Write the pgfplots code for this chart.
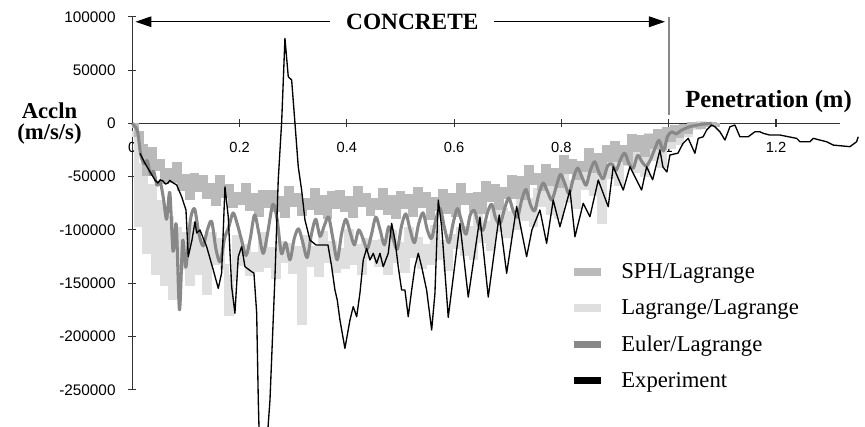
\documentclass[border=0pt]{standalone}
\usepackage{fontspec}
\setmainfont{Liberation Serif}
\setsansfont{Liberation Sans}
\usepackage{pgfplots}
\pgfplotsset{compat=1.18}
\usetikzlibrary{arrows.meta}
\definecolor{sphc}{RGB}{186,186,186}
\definecolor{lagc}{RGB}{223,223,223}
\definecolor{eulc}{RGB}{136,136,136}
\begin{document}
\begin{tikzpicture}
\begin{axis}[
  at={(99.2pt,227.0pt)}, anchor=origin,
  scale only axis, width=531.1pt, height=279.8pt,
  xmin=0, xmax=1.32, ymin=-250000, ymax=100000,
  axis x line=middle, axis y line=middle,
  axis line style={-, line width=0.8pt, color=black!80},
  clip=false,
  scaled x ticks=false, scaled y ticks=false,
  hide obscured x ticks=false, hide obscured y ticks=false,
  xtick={0,0.2,0.4,0.6,0.8,1,1.2},
  xticklabels={0,0.2,0.4,0.6,0.8,1,1.2},
  ytick={-250000,-200000,-150000,-100000,-50000,0,50000,100000},
  yticklabels={-250000,-200000,-150000,-100000,-50000,0,50000,100000},
  major tick length=6pt, tick align=center,
  tick style={line width=0.8pt, black!80},
  xticklabel style={font=\sffamily\fontsize{11}{13}\selectfont, anchor=center, yshift=-15pt},
  yticklabel style={font=\sffamily\fontsize{11.5}{13}\selectfont, anchor=east, xshift=-6pt},
  legend style={draw=none, fill=none, at={(axis cs:0.822,-128500)}, anchor=north west,
    font=\fontsize{17}{20}\selectfont, row sep=10.3pt, column sep=14pt, inner sep=0pt,
    nodes={inner sep=2pt}},
  legend cell align=left,
  legend image code/.code={\fill[#1] (0pt,-2.3pt) rectangle (19.5pt,2.3pt);},
]
% Lagrange/Lagrange
\addplot[forget plot, const plot, lagc, line width=4.2pt] coordinates {
(0,-10000)(0.008,-95000)(0.016,-40000)(0.024,-120000)(0.032,-60000)(0.040,-140000)(0.048,-75000)(0.056,-150000)(0.064,-90000)(0.072,-163000)(0.080,-100000)(0.088,-135000)(0.096,-105000)(0.104,-150000)(0.112,-95000)(0.120,-140000)(0.128,-110000)(0.136,-158000)(0.144,-105000)(0.152,-130000)(0.160,-110000)(0.168,-135000)(0.176,-178000)(0.184,-145000)(0.192,-107000)(0.200,-131000)(0.208,-116000)(0.216,-141000)(0.224,-123000)(0.232,-137000)(0.240,-105000)(0.248,-133000)(0.256,-119000)(0.264,-143000)(0.272,-113000)(0.280,-128000)(0.288,-115000)(0.296,-139000)(0.304,-118000)(0.312,-187000)(0.320,-107000)(0.328,-132000)(0.336,-118000)(0.344,-142000)(0.352,-104000)(0.360,-128000)(0.368,-113000)(0.376,-138000)(0.384,-120000)(0.392,-134000)(0.400,-102000)(0.408,-130000)(0.416,-116000)(0.424,-140000)(0.432,-110000)(0.440,-125000)(0.448,-112000)(0.456,-132000)(0.464,-111000)(0.472,-140000)(0.480,-103000)(0.488,-128000)(0.496,-114000)(0.504,-138000)(0.512,-100000)(0.520,-124000)(0.528,-109000)(0.536,-134000)(0.544,-116000)(0.552,-130000)(0.560,-98000)(0.568,-126000)(0.576,-112000)(0.584,-136000)(0.592,-106000)(0.600,-115000)(0.608,-100000)(0.616,-122000)(0.624,-99000)(0.632,-126000)(0.640,-87000)(0.648,-110000)(0.656,-94000)(0.664,-117000)(0.672,-77000)(0.680,-99000)(0.688,-82000)(0.696,-105000)(0.704,-85000)(0.712,-97000)(0.720,-63000)(0.728,-89000)(0.736,-73000)(0.744,-95000)(0.752,-63000)(0.760,-76000)(0.768,-61000)(0.776,-83000)(0.784,-60000)(0.792,-87000)(0.800,-48000)(0.808,-72000)(0.816,-56000)(0.824,-78000)(0.832,-38000)(0.840,-60000)(0.848,-43000)(0.856,-66000)(0.864,-46000)(0.872,-92000)(0.880,-34000)(0.888,-50000)(0.896,-34000)(0.904,-56000)(0.912,-28000)(0.920,-37000)(0.928,-22000)(0.936,-44000)(0.944,-22000)(0.952,-48000)(0.960,-12000)(0.968,-33000)(0.976,-17000)(0.984,-39000)(0.992,-7000)(1.000,-21000)(1.008,-5000)(1.016,-18000)(1.024,-3000)(1.032,-10000)(1.040,-2000)(1.048,-4000)(1.056,0)(1.072,0)
};
% SPH/Lagrange
\addplot[forget plot, const plot, sphc, line width=4.2pt] coordinates {
(0,-2000)(0.008,-10000)(0.016,-22000)(0.024,-47000)(0.032,-25000)(0.040,-42000)(0.048,-36000)(0.056,-54000)(0.064,-45000)(0.072,-53000)(0.080,-39000)(0.088,-61000)(0.096,-50000)(0.104,-69000)(0.112,-49000)(0.120,-62000)(0.128,-51000)(0.136,-68000)(0.144,-59000)(0.152,-75000)(0.160,-51000)(0.168,-67000)(0.176,-60000)(0.184,-77000)(0.192,-67000)(0.200,-74000)(0.208,-59000)(0.216,-80000)(0.224,-68000)(0.232,-85000)(0.240,-65000)(0.248,-77000)(0.256,-65000)(0.264,-81000)(0.272,-71000)(0.280,-86000)(0.288,-61000)(0.296,-76000)(0.304,-68000)(0.312,-84000)(0.320,-73000)(0.328,-79000)(0.336,-63000)(0.344,-83000)(0.352,-70000)(0.360,-87000)(0.368,-66000)(0.376,-78000)(0.384,-65000)(0.392,-81000)(0.400,-71000)(0.408,-86000)(0.416,-61000)(0.424,-76000)(0.432,-68000)(0.440,-84000)(0.448,-73000)(0.456,-79000)(0.464,-63000)(0.472,-83000)(0.480,-70000)(0.488,-87000)(0.496,-66000)(0.504,-78000)(0.512,-69000)(0.520,-85000)(0.528,-62000)(0.536,-77000)(0.544,-67000)(0.552,-88000)(0.560,-72000)(0.568,-80000)(0.576,-64000)(0.584,-82000)(0.592,-68000)(0.600,-85000)(0.608,-59000)(0.616,-74000)(0.624,-68000)(0.632,-81000)(0.640,-67000)(0.648,-82000)(0.656,-57000)(0.664,-71000)(0.672,-60000)(0.680,-79000)(0.688,-62000)(0.696,-68000)(0.704,-51000)(0.712,-68000)(0.720,-52000)(0.728,-69000)(0.736,-42000)(0.744,-55000)(0.752,-49000)(0.760,-61000)(0.768,-41000)(0.776,-56000)(0.784,-45000)(0.792,-58000)(0.800,-32000)(0.808,-45000)(0.816,-36000)(0.824,-51000)(0.832,-38000)(0.840,-43000)(0.848,-26000)(0.856,-44000)(0.864,-30000)(0.872,-46000)(0.880,-23000)(0.888,-34000)(0.896,-19000)(0.904,-34000)(0.912,-23000)(0.920,-36000)(0.928,-13000)(0.936,-24000)(0.944,-14000)(0.952,-29000)(0.960,-13000)(0.968,-21000)(0.976,-8000)(0.984,-22000)(0.992,-6000)(1.000,-15000)(1.008,-4000)(1.016,-11000)(1.024,-3000)(1.032,-7000)(1.040,-1000)(1.048,-2000)(1.056,-3000)(1.064,-1000)(1.080,-1000)(1.090,0)
};
% Euler/Lagrange
\addplot[forget plot, eulc, line width=2.3pt, line join=round, smooth, tension=0.5] coordinates {
(0.000,0)(0.005,-3000)(0.010,-8000)(0.016,-30000)(0.022,-38000)(0.028,-35000)(0.034,-48000)(0.040,-45000)(0.046,-58000)(0.052,-55000)(0.058,-70000)(0.064,-90000)(0.070,-65000)(0.076,-120000)(0.082,-95000)(0.088,-175000)(0.094,-110000)(0.100,-135000)(0.108,-92000)(0.116,-80000)(0.124,-103000)(0.132,-115000)(0.140,-100000)(0.148,-92000)(0.156,-118000)(0.164,-130000)(0.172,-108000)(0.180,-97000)(0.188,-84000)(0.196,-95000)(0.204,-110000)(0.212,-124000)(0.220,-108000)(0.228,-86000)(0.236,-103000)(0.244,-122000)(0.252,-104000)(0.262,-76000)(0.270,-90000)(0.278,-122000)(0.286,-112000)(0.294,-128000)(0.302,-108000)(0.310,-99000)(0.318,-112000)(0.326,-126000)(0.334,-104000)(0.342,-90000)(0.350,-106000)(0.358,-96000)(0.366,-88000)(0.374,-108000)(0.382,-128000)(0.390,-104000)(0.398,-90000)(0.406,-102000)(0.414,-114000)(0.422,-100000)(0.430,-108000)(0.438,-118000)(0.446,-104000)(0.454,-88000)(0.462,-100000)(0.470,-114000)(0.478,-97000)(0.486,-108000)(0.494,-118000)(0.502,-96000)(0.510,-85000)(0.518,-100000)(0.526,-112000)(0.534,-94000)(0.542,-84000)(0.550,-100000)(0.558,-108000)(0.566,-90000)(0.574,-80000)(0.582,-98000)(0.590,-112000)(0.598,-94000)(0.606,-80000)(0.614,-92000)(0.622,-104000)(0.630,-86000)(0.638,-82000)(0.646,-96000)(0.654,-100000)(0.662,-84000)(0.670,-76000)(0.678,-90000)(0.686,-94000)(0.694,-80000)(0.702,-70000)(0.710,-82000)(0.718,-88000)(0.726,-72000)(0.734,-62000)(0.742,-76000)(0.750,-82000)(0.758,-66000)(0.766,-56000)(0.774,-64000)(0.782,-72000)(0.790,-60000)(0.798,-48000)(0.806,-56000)(0.814,-66000)(0.822,-52000)(0.830,-42000)(0.838,-50000)(0.846,-58000)(0.854,-44000)(0.862,-36000)(0.870,-46000)(0.878,-52000)(0.886,-40000)(0.894,-38000)(0.902,-44000)(0.910,-34000)(0.918,-28000)(0.926,-38000)(0.934,-42000)(0.942,-30000)(0.950,-36000)(0.958,-40000)(0.966,-34000)(0.974,-24000)(0.982,-16000)(0.990,-26000)(0.998,-12000)(1.006,-8000)(1.014,-10000)(1.022,-7000)(1.030,-5000)(1.040,-3000)(1.050,-2000)(1.060,-1000)(1.080,0)
};
% Experiment
\addplot[forget plot, black, line width=1pt, line join=round] coordinates {
(0.0144,-28100)(0.0237,-37500)(0.0330,-45400)(0.0423,-53200)(0.0478,-56000)(0.0520,-53000)(0.0572,-54100)(0.0620,-57000)(0.0665,-56000)(0.0700,-53500)(0.0740,-55100)(0.0828,-57900)(0.0921,-68900)(0.1001,-81300)(0.1044,-125100)(0.1113,-109500)(0.1169,-92300)(0.1200,-102900)(0.1262,-100100)(0.1387,-115700)(0.1510,-137600)(0.1603,-154800)(0.1666,-140400)(0.1728,-59500)(0.1789,-87600)(0.1853,-153300)(0.1914,-178200)(0.1976,-125100)(0.2039,-115700)(0.2101,-134500)(0.2226,-139200)(0.2268,-140400)(0.2319,-177900)(0.2349,-259500)(0.2370,-300000)(0.2510,-300000)(0.2567,-259500)(0.2660,-143900)(0.2721,-53200)(0.2785,1500)(0.2846,79700)(0.2908,43700)(0.2971,40600)(0.3033,0)(0.3094,-40700)(0.3157,-62600)(0.3219,-90700)(0.3312,-109500)(0.3424,-114100)(0.3536,-114100)(0.3648,-114100)(0.3717,-134500)(0.3778,-156400)(0.3821,-165700)(0.3871,-184500)(0.3964,-211100)(0.4058,-184500)(0.4119,-172000)(0.4183,-181400)(0.4244,-159200)(0.4306,-128200)(0.4369,-117300)(0.4431,-128200)(0.4492,-121900)(0.4555,-131300)(0.4617,-121900)(0.4678,-134500)(0.4772,-121900)(0.4835,-93800)(0.4897,-109500)(0.4958,-134500)(0.5021,-156400)(0.5083,-156400)(0.5144,-181400)(0.5208,-156400)(0.5269,-134500)(0.5331,-121900)(0.5394,-134500)(0.5487,-156400)(0.5581,-193900)(0.5642,-159500)(0.5704,-71900)(0.5767,-97000)(0.5890,-182000)(0.6108,-94000)(0.6263,-163000)(0.6481,-88000)(0.6636,-163000)(0.6840,-86000)(0.6979,-140700)(0.7165,-78000)(0.7351,-125100)(0.7450,-100000)(0.7599,-81300)(0.7724,-112600)(0.7847,-71900)(0.7972,-97000)(0.8159,-62600)(0.8252,-106400)(0.8406,-75000)(0.8531,-87600)(0.8686,-53200)(0.8872,-78200)(0.8965,-40700)(0.9152,-62600)(0.9277,-40700)(0.9495,-62600)(0.9588,-40700)(0.9700,-53000)(0.9836,-25000)(0.9892,-41000)(0.9966,-45600)(1.0022,-29700)(1.0171,-28000)(1.0264,-19000)(1.0363,-14100)(1.0488,-28100)(1.0550,-14100)(1.0643,-12600)(1.0706,-6300)(1.0800,-1600)(1.0861,-3200)(1.0954,-7900)(1.1048,-15700)(1.1141,-3200)(1.1234,-1600)(1.1327,-12600)(1.1482,-12600)(1.1607,-7900)(1.1700,-7900)(1.1762,-9400)(1.1886,-11000)(1.2073,-11000)(1.2384,-14100)(1.2446,-17300)(1.2632,-17300)(1.2694,-14100)(1.2819,-15700)(1.2943,-17300)(1.3066,-20400)(1.3377,-21900)(1.3502,-17300)(1.3532,-12600)
};
\addlegendimage{sphc}\addlegendentry{SPH/Lagrange}
\addlegendimage{lagc}\addlegendentry{Lagrange/Lagrange}
\addlegendimage{eulc}\addlegendentry{Euler/Lagrange}
\addlegendimage{black}\addlegendentry{Experiment}
% annotations
\draw[line width=0.8pt, {Triangle[length=12pt,width=8pt]}-{Triangle[length=12pt,width=8pt]}] (axis cs:0.006,95300) -- (axis cs:0.993,95300);
\node[fill=white, inner xsep=12pt, inner ysep=1pt, font=\bfseries\fontsize{17.5}{20}\selectfont] at (axis cs:0.522,95300) {CONCRETE};
\draw[eulc, line width=1.5pt] (axis cs:1,100000) -- (axis cs:1,8000);
\node[font=\bfseries\fontsize{17}{15.5}\selectfont, align=center] at (axis cs:-0.1543,0) {Accln\\(m/s/s)};
\node[font=\bfseries\fontsize{18.5}{21}\selectfont] at (axis cs:1.186,20400) {Penetration (m)};
\end{axis}
\pgfresetboundingbox
\path[use as bounding box] (0,0) rectangle (648.75pt,319.5pt);
\end{tikzpicture}
\end{document}
